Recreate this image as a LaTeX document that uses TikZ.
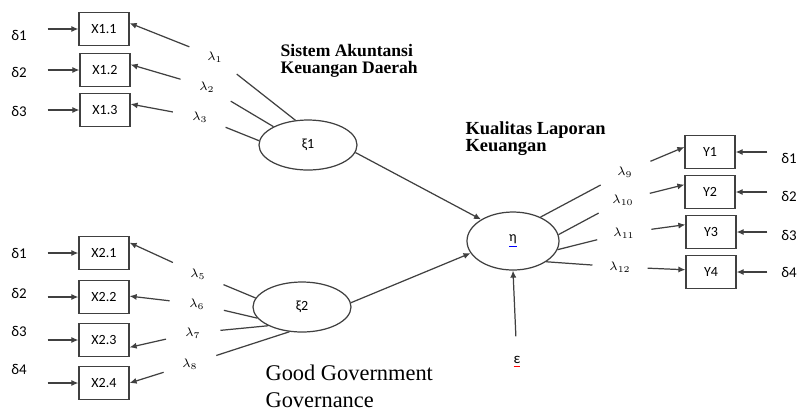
\documentclass[tikz,border=0pt]{standalone}
\usepackage{fontspec}
\setmainfont{Liberation Serif}
\newfontfamily\carlito{Carlito}
\usetikzlibrary{arrows.meta,shapes.geometric}

\begin{document}
\begin{tikzpicture}[x=0.02cm,y=-0.02cm,
    color=black!75, line width=0.7pt,
    every node/.style={text=black},
    arr/.style={-{Latex[length=4pt,width=3.5pt]}},
    ind/.style={draw, minimum width=1cm, minimum height=0.66cm, inner sep=0pt,
        font=\carlito\fontsize{8}{9}\selectfont},
    lat/.style={draw, ellipse, minimum width=1.96cm, minimum height=1cm, inner sep=0pt,
        font=\carlito\fontsize{8}{9}\selectfont},
    err/.style={minimum width=1.12cm, inner sep=0pt, font=\carlito\fontsize{8.5}{9}\selectfont},
    lam/.style={circle, minimum size=1.08cm, inner sep=0pt, font=\fontsize{7}{8}\selectfont},
    ttl/.style={anchor=north west, inner sep=0pt, align=left}]
    \useasboundingbox (0,0) rectangle (799,414);

    \node[ind] (x11) at (104,29) {X1.1};
    \node[ind] (x12) at (105,70) {X1.2};
    \node[ind] (x13) at (105,110) {X1.3};
    \node[ind] (x21) at (104,253) {X2.1};
    \node[ind] (x22) at (104,297) {X2.2};
    \node[ind] (x23) at (104,340) {X2.3};
    \node[ind] (x24) at (104,383) {X2.4};
    \node[ind] (y1) at (710,152) {Y1};
    \node[ind] (y2) at (710,192) {Y2};
    \node[ind] (y3) at (711,232) {Y3};
    \node[ind] (y4) at (711,272) {Y4};

    \node[err] (d11) at (19,35) {δ1};
    \node[err] (d12) at (19,72) {δ2};
    \node[err] (d13) at (19,111) {δ3};
    \node[err] (d21) at (19,253) {δ1};
    \node[err] (d22) at (19,293) {δ2};
    \node[err] (d23) at (19,331) {δ3};
    \node[err] (d24) at (19,369) {δ4};
    \node[err, minimum width=0.84cm] (e1) at (789,158) {δ1};
    \node[err, minimum width=0.84cm] (e2) at (789,196) {δ2};
    \node[err, minimum width=0.84cm] (e3) at (789,235) {δ3};
    \node[err, minimum width=0.84cm] (e4) at (789,272) {δ4};

    \draw[arr] (d11.east |- x11.west) -- (x11.west);
    \draw[arr] (d12.east |- x12.west) -- (x12.west);
    \draw[arr] (d13.east |- x13.west) -- (x13.west);
    \draw[arr] (d21.east |- x21.west) -- (x21.west);
    \draw[arr] (d22.east |- x22.west) -- (x22.west);
    \draw[arr] (d23.east |- x23.west) -- (x23.west);
    \draw[arr] (d24.east |- x24.west) -- (x24.west);
    \draw[arr] (e1.west |- y1.east) -- (y1.east);
    \draw[arr] (e2.west |- y2.east) -- (y2.east);
    \draw[arr] (e3.west |- y3.east) -- (y3.east);
    \draw[arr] (e4.west |- y4.east) -- (y4.east);

    \node[lat] (xi1) at (308,145) {ξ1};
    \node[lat] (xi2) at (302,307) {ξ2};
    \node[lat, minimum width=1.84cm, minimum height=1.16cm] (eta) at (513,241)
        {{\color{blue}\underline{\textcolor{black}{η}}}};
    \node[circle, minimum size=1cm, inner sep=0pt, font=\carlito\fontsize{8.5}{9}\selectfont]
        (eps) at (517,362) {{\color{red}\underline{\textcolor{black}{ε}}}};

    \node[lam] (l1) at (215,57) {$\lambda_{1}$};
    \node[lam] (l2) at (207,87) {$\lambda_{2}$};
    \node[lam] (l3) at (200,117) {$\lambda_{3}$};
    \node[lam] (l5) at (198,274) {$\lambda_{5}$};
    \node[lam] (l6) at (197,304) {$\lambda_{6}$};
    \node[lam] (l7) at (193,333) {$\lambda_{7}$};
    \node[lam] (l8) at (190,364) {$\lambda_{8}$};
    \node[lam] (l9) at (625,172) {$\lambda_{9}$};
    \node[lam] (l10) at (623,200) {$\lambda_{10}$};
    \node[lam] (l11) at (624,233) {$\lambda_{11}$};
    \node[lam] (l12) at (620,267) {$\lambda_{12}$};

    \draw[arr] (l1) -- (x11.13);
    \draw[arr] (l2) -- (x12.12);
    \draw[arr] (l3) -- (x13.13);
    \draw[arr] (l5) -- (x21.22);
    \draw[arr] (l6) -- (x22.2);
    \draw[arr] (l7) -- (x23.344);
    \draw[arr] (l8) -- (x24.east);
    \draw[arr] (l9) -- (y1.169);
    \draw[arr] (l10) -- (y2.164);
    \draw[arr] (l11) -- (y3.164);
    \draw[arr] (l12) -- (y4.175);

    \draw (l1) -- (xi1.117);
    \draw (l2) -- (xi1.152);
    \draw (l3) -- (xi1.175);
    \draw (l5) -- (xi2.169);
    \draw (l6) -- (xi2.194);
    \draw (l7) -- (xi2.209);
    \draw (l8) -- (xi2.243);
    \draw (eta.41) -- (l9);
    \draw (eta.8) -- (l10);
    \draw (eta.349) -- (l11);
    \draw (eta.328) -- (l12);

    \draw[arr] (xi1.-9) -- (eta.146);
    \draw[arr] (xi2.5) -- (eta.196);
    \draw[arr] (eps) -- (eta.south);

    \node[ttl, font=\bfseries\fontsize{10}{9.4}\selectfont] (ska) at (280,44)
        {Sistem Akuntansi\\Keuangan Daerah};
    \node[ttl, font=\bfseries\fontsize{10.5}{9.8}\selectfont] (klk) at (465,121)
        {Kualitas Laporan\\Keuangan};
    \node[ttl, font=\fontsize{12.75}{15.6}\selectfont] (ggg) at (265,364)
        {Good Government\\Governance};
\end{tikzpicture}
\end{document}
